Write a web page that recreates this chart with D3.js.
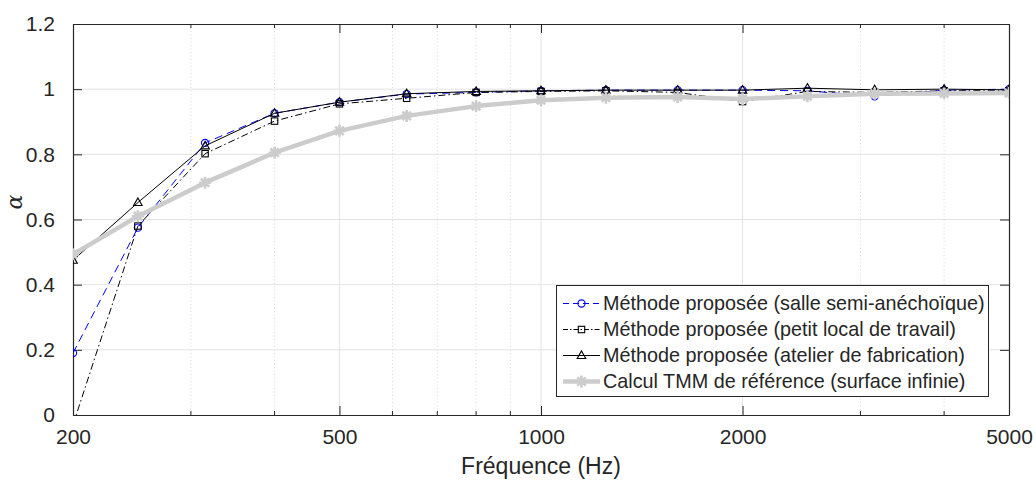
<!DOCTYPE html>
<html><head><meta charset="utf-8">
<script src="https://cdn.jsdelivr.net/npm/d3@7"></script>
<style>body{margin:0;background:#fff;} text{font-family:"Liberation Sans",Arial,Helvetica,sans-serif;fill:#262626;}</style>
</head><body>
<svg id="c" width="1036" height="483"></svg>
<script>
const freqs = [200,250,315,400,500,630,800,1000,1250,1600,2000,2500,3150,4000,5000];
const semiAnechoic = [0.19,0.575,0.835,0.926,0.96,0.985,0.99,0.995,0.997,0.997,0.997,0.995,0.978,0.997,1.0];
const petitLocal   = [-0.03,0.58,0.802,0.902,0.955,0.972,0.99,0.993,0.995,0.99,0.962,0.993,0.99,0.995,0.995];
const atelier      = [0.475,0.652,0.826,0.926,0.96,0.986,0.993,0.995,0.997,0.997,0.997,1.003,0.998,1.0,0.998];
const tmm          = [0.493,0.61,0.713,0.805,0.872,0.918,0.948,0.966,0.974,0.976,0.97,0.978,0.986,0.987,0.988];
const xTicks = [200,500,1000,2000,5000];
const xMinor = [300,400,600,700,800,900,3000,4000];
const yTicks = [0,0.2,0.4,0.6,0.8,1,1.2];
const legendLabels = ["Méthode proposée (salle semi-anéchoïque)","Méthode proposée (petit local de travail)","Méthode proposée (atelier de fabrication)","Calcul TMM de référence (surface infinie)"];

const L=73,R=1009,T=24,B=415;
const svg=d3.select("#c");
const x=d3.scaleLog().domain([200,5000]).range([L,R]);
const y=d3.scaleLinear().domain([0,1.2]).range([B,T]);
const axisCol="#262626";

// grid
const g=svg.append("g");
g.selectAll(".ym").data(yTicks.slice(1,-1)).enter().append("line")
 .attr("x1",L).attr("x2",R).attr("y1",d=>y(d)).attr("y2",d=>y(d)).attr("stroke","#e3e3e3").attr("stroke-width",1);
g.selectAll(".xm").data(xTicks.slice(1,-1)).enter().append("line")
 .attr("y1",T).attr("y2",B).attr("x1",d=>x(d)).attr("x2",d=>x(d)).attr("stroke","#e3e3e3").attr("stroke-width",1);
g.selectAll(".xn").data(xMinor).enter().append("line")
 .attr("y1",T).attr("y2",B).attr("x1",d=>x(d)).attr("x2",d=>x(d)).attr("stroke","#d8d8d8").attr("stroke-width",1).attr("stroke-dasharray","1,2.5");

// axes with inside ticks
const fmtY=d=>d===0?"0":(d===1?"1":d3.format(".1f")(d));
const ax=svg.append("g").attr("transform",`translate(0,${B})`).call(d3.axisBottom(x).tickValues(xTicks).tickFormat(d3.format("d")).tickSizeInner(-9).tickSizeOuter(0).tickPadding(18));
const axT=svg.append("g").attr("transform",`translate(0,${T})`).call(d3.axisTop(x).tickValues(xTicks).tickFormat("").tickSizeInner(-9).tickSizeOuter(0));
const ayL=svg.append("g").attr("transform",`translate(${L},0)`).call(d3.axisLeft(y).tickValues(yTicks).tickFormat(fmtY).tickSizeInner(-9).tickSizeOuter(0).tickPadding(18));
const ayR=svg.append("g").attr("transform",`translate(${R},0)`).call(d3.axisRight(y).tickValues(yTicks).tickFormat("").tickSizeInner(-9).tickSizeOuter(0));
[ax,axT,ayL,ayR].forEach(a=>{a.select(".domain").attr("stroke",axisCol).attr("stroke-width",1.2);a.selectAll(".tick line").attr("stroke",axisCol);a.selectAll("text").style("font-size","21px").attr("fill",axisCol).style("font-family",'"Liberation Sans",Arial,sans-serif');});
ax.selectAll("text").attr("dy","0.5em");
// minor ticks
[[B,-4],[T,4]].forEach(([yy,dl])=>{
 svg.append("g").selectAll("line").data(xMinor).enter().append("line")
 .attr("x1",d=>x(d)).attr("x2",d=>x(d)).attr("y1",yy).attr("y2",yy+dl).attr("stroke",axisCol);
});

// labels
svg.append("text").attr("x",(L+R)/2).attr("y",474).attr("text-anchor","middle").style("font-size","23px").text("Fréquence (Hz)");
svg.append("text").attr("transform","translate(22,202) rotate(-90)").attr("text-anchor","middle")
 .style("font-family",'"DejaVu Serif","Liberation Serif",serif').style("font-style","italic").style("font-size","22px").text("α");

// clip
svg.append("clipPath").attr("id","clip").append("rect").attr("x",L).attr("y",T).attr("width",R-L).attr("height",B-T);
const plot=svg.append("g").attr("clip-path","url(#clip)");
const line=d3.line().x((d,i)=>x(freqs[i])).y(d=>y(d));

const series=[
 {v:semiAnechoic,col:"#0000ff",w:1,dash:"8,5",m:"circle"},
 {v:petitLocal,col:"#000000",w:1,dash:"7,3,1.5,3",m:"square"},
 {v:atelier,col:"#000000",w:1,dash:null,m:"triangle"},
 {v:tmm,col:"#cccccc",w:4.5,dash:null,m:"star"}
];
function marker(sel,m,col,cx,cy){
 if(m==="circle") sel.append("circle").attr("cx",cx).attr("cy",cy).attr("r",3.6).attr("fill","none").attr("stroke",col).attr("stroke-width",1.1);
 else if(m==="square") sel.append("rect").attr("x",cx-3.2).attr("y",cy-3.2).attr("width",6.4).attr("height",6.4).attr("fill","none").attr("stroke",col).attr("stroke-width",1.1);
 else if(m==="triangle") sel.append("path").attr("d",`M${cx},${cy-4.6}L${cx+4.3},${cy+3}L${cx-4.3},${cy+3}Z`).attr("fill","none").attr("stroke",col).attr("stroke-width",1.1);
 else if(m==="star"){const s=6;const p=[[0,-s],[0,s]];
  const d=`M${cx-s},${cy}L${cx+s},${cy}M${cx},${cy-s}L${cx},${cy+s}M${cx-s*0.7},${cy-s*0.7}L${cx+s*0.7},${cy+s*0.7}M${cx-s*0.7},${cy+s*0.7}L${cx+s*0.7},${cy-s*0.7}`;
  sel.append("path").attr("d",d).attr("stroke",col).attr("stroke-width",2.6).attr("fill","none");}
}
series.forEach(s=>{
 const p=plot.append("path").datum(s.v).attr("d",line).attr("fill","none").attr("stroke",s.col).attr("stroke-width",s.w).attr("stroke-linejoin","round");
 if(s.dash) p.attr("stroke-dasharray",s.dash);
 const mg=plot.append("g");
 s.v.forEach((v,i)=>marker(mg,s.m,s.col,x(freqs[i]),y(v)));
});

// legend
const lg=svg.append("g");
lg.append("rect").attr("x",556.5).attr("y",285.5).attr("width",432).attr("height",111).attr("fill","#fff").attr("stroke",axisCol).attr("stroke-width",1);
const rowY=[303.5,329.5,355.5,381.5];
series.forEach((s,i)=>{
 const l=lg.append("line").attr("x1",563).attr("x2",600).attr("y1",rowY[i]).attr("y2",rowY[i]).attr("stroke",s.col).attr("stroke-width",s.w);
 if(s.dash) l.attr("stroke-dasharray",s.dash==="8,5"?"6,4":"5,2,1.5,2");
 marker(lg,s.m,s.col,581.5,rowY[i]);
 lg.append("text").attr("x",603).attr("y",rowY[i]).attr("dy","0.35em").style("font-size","19.8px").text(legendLabels[i]);
});
</script>
</body></html>
